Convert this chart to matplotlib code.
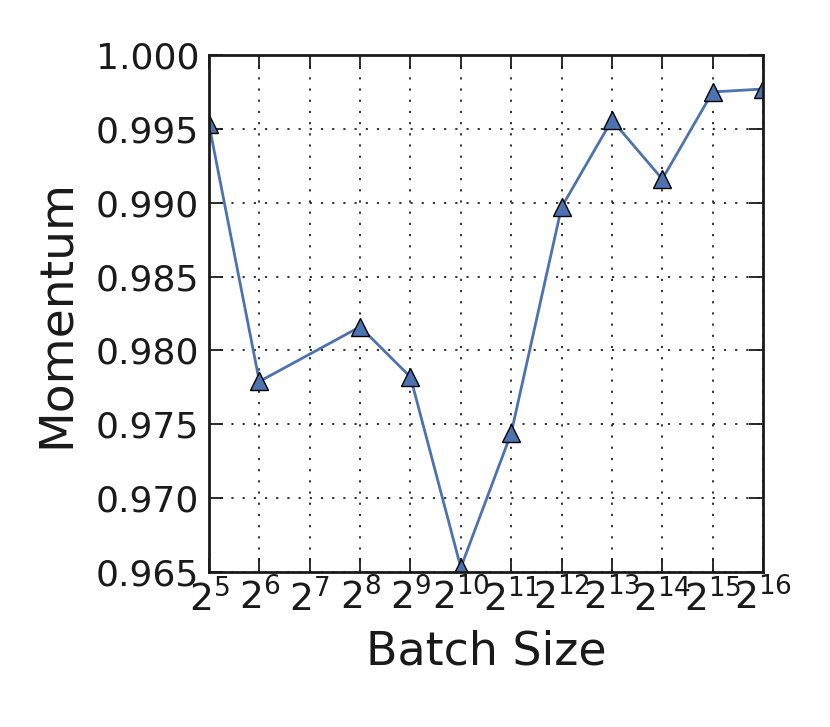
# Momentum vs batch size
import math
import matplotlib
matplotlib.use('Agg')
import matplotlib.pyplot as plt
from matplotlib.ticker import FixedLocator, FuncFormatter, NullLocator

# data
batch_sizes = [32, 64, 256, 512, 1024, 2048, 4096, 8192, 16384, 32768, 65536]
momentum = [0.9953, 0.9779, 0.9816, 0.9782, 0.9653, 0.9744,
            0.9897, 0.9956, 0.9916, 0.9975, 0.9977]
x_exponents = list(range(5, 17))
y_ticks = [0.965, 0.970, 0.975, 0.980, 0.985, 0.990, 0.995, 1.000]

plt.rcParams['font.family'] = 'DejaVu Sans'
plt.rcParams['mathtext.fontset'] = 'dejavusans'

fig = plt.figure(figsize=(8.3, 7.27), dpi=100)
ax = fig.add_axes([0.2518, 0.2132, 0.6675, 0.7111])

ax.plot(batch_sizes, momentum, color='#4C72B0', linewidth=2,
        marker='^', markersize=13, markerfacecolor='#4C72B0',
        markeredgecolor='black', markeredgewidth=1)

ax.set_xscale('log', base=2)
ax.set_xlim(2 ** x_exponents[0], 2 ** x_exponents[-1])
ax.xaxis.set_major_locator(FixedLocator([2 ** e for e in x_exponents]))
ax.xaxis.set_minor_locator(NullLocator())
ax.xaxis.set_major_formatter(FuncFormatter(
    lambda v, pos: r'$2^{%d}$' % round(math.log2(v))))

ax.set_ylim(y_ticks[0], y_ticks[-1])
ax.set_yticks(y_ticks)
ax.yaxis.set_major_formatter(FuncFormatter(lambda v, pos: '%.3f' % v))

ax.grid(True, color='#222222', linestyle=(0, (1.2, 5)), linewidth=1.3)
ax.tick_params(direction='in', length=10, width=1.3, top=True, right=True,
               labelsize=26, colors='#1a1a1a', pad=7)
ax.tick_params(axis='x', labelsize=27, pad=5)
for s in ax.spines.values():
    s.set_linewidth(2)
    s.set_color('#1a1a1a')

ax.set_xlabel('Batch Size', fontsize=33, color='#1a1a1a', labelpad=8)
ax.set_ylabel('Momentum', fontsize=34, color='#1a1a1a', labelpad=12)

fig.savefig('out.png', dpi=100)
